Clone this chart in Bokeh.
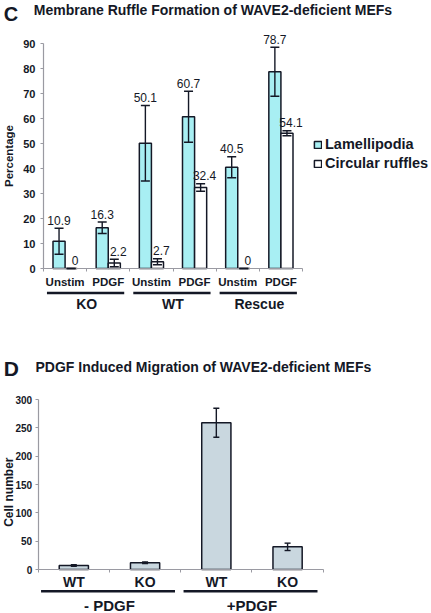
from math import pi
from bokeh.plotting import figure
from bokeh.models import (ColumnDataSource, Range1d, Whisker, TeeHead, LabelSet, Label,
                          Legend, LegendItem, FixedTicker, LinearAxis)
from bokeh.layouts import column
from bokeh.embed import file_html
from bokeh.resources import INLINE
from bokeh.core.properties import value

# ---------------- data: panel C ----------------
groups_c = ["KO", "WT", "Rescue"]
conditions_c = ["Unstim", "PDGF"]
lamellipodia = [10.9, 16.3, 50.1, 60.7, 40.5, 78.7]
lamellipodia_err = [5.2, 2.3, 15.1, 10.2, 4.2, 9.8]
circular = [0.0, 2.2, 2.7, 32.4, 0.0, 54.1]
circular_err = [0.0, 1.5, 1.2, 1.5, 0.0, 1.0]
y_ticks_c = [0, 10, 20, 30, 40, 50, 60, 70, 80, 90]

# ---------------- data: panel D ----------------
groups_d = ["- PDGF", "+PDGF"]
genotypes_d = ["WT", "KO"]
cell_number = [7, 12, 259, 40]
cell_number_err = [1.5, 1.5, 25.5, 6.5]
y_ticks_d = [0, 50, 100, 150, 200, 250, 300]

FONT = "Liberation Sans"
INK = "#141826"
AXIS = "#9a9aa2"
CYAN = "#a8eff3"
GREY = "#c9d7df"


def style_axes(xa, ya, sub_size, sub_standoff, tick_size, tick_standoff):
    for ax in (xa, ya):
        ax.axis_line_color = AXIS
        ax.axis_line_width = 1.2
        ax.major_label_text_font = FONT
        ax.major_label_text_font_style = "bold"
        ax.major_label_text_color = INK
    xa.major_tick_out = 0
    xa.major_tick_in = 0
    xa.minor_tick_line_color = AXIS
    xa.minor_tick_out = 3
    xa.minor_tick_in = 0
    xa.major_label_standoff = sub_standoff
    xa.major_label_text_font_size = sub_size
    ya.major_tick_line_color = AXIS
    ya.major_tick_out = 3
    ya.major_tick_in = 0
    ya.minor_tick_line_color = None
    ya.major_label_standoff = tick_standoff
    ya.major_label_text_font_size = tick_size


# ================= panel C =================
# frame = whole figure; 1 x-unit = one category (43.17 px), 1 y-unit = 2.5 px
WC, HC = 431, 325
cw_c = 259 / 6
n_c = len(groups_c) * len(conditions_c)
pC = figure(width=WC, height=HC, output_backend="svg", toolbar_location=None,
            x_range=Range1d(-0.5 - 43 / cw_c, -0.5 + (WC - 43) / cw_c),
            y_range=Range1d((268 - HC) / 2.5, 268 / 2.5),
            x_axis_location=None, y_axis_location=None, min_border=0)
pC.xgrid.visible = False
pC.ygrid.visible = False
pC.outline_line_color = None

idx_c = list(range(n_c))
OFF, BW = 0.14, 0.28
src_c = ColumnDataSource(dict(
    x_lam=[i - OFF for i in idx_c],
    x_circ=[i + OFF for i in idx_c],
    lam=lamellipodia,
    lam_lo=[v - e for v, e in zip(lamellipodia, lamellipodia_err)],
    lam_hi=[v + e for v, e in zip(lamellipodia, lamellipodia_err)],
    lam_txt=[f"{v:g}" for v in lamellipodia],
    circ=circular,
    circ_lo=[v - e for v, e in zip(circular, circular_err)],
    circ_hi=[v + e for v, e in zip(circular, circular_err)],
    circ_txt=[f"{v:g}" for v in circular],
))

r_lam = pC.vbar(x="x_lam", top="lam", width=BW, source=src_c,
                fill_color=CYAN, line_color=INK, line_width=1.5)
r_circ = pC.vbar(x="x_circ", top="circ", width=BW, source=src_c,
                 fill_color="white", line_color=INK, line_width=1.5)

for xcol, lo, hi in [("x_lam", "lam_lo", "lam_hi"), ("x_circ", "circ_lo", "circ_hi")]:
    pC.add_layout(Whisker(base=xcol, lower=lo, upper=hi, source=src_c,
                          level="overlay", line_color=INK, line_width=1.4,
                          upper_head=TeeHead(size=9, line_color=INK, line_width=1.4),
                          lower_head=TeeHead(size=9, line_color=INK, line_width=1.4)))

for xcol, ycol, tcol, xo in [("x_lam", "lam_hi", "lam_txt", 0), ("x_circ", "circ_hi", "circ_txt", 4)]:
    pC.add_layout(LabelSet(x=xcol, y=ycol, text=tcol, source=src_c,
                           level="overlay", x_offset=xo, y_offset=8,
                           text_align="center", text_baseline="middle",
                           text_font=value(FONT), text_font_size=value("12px"), text_color=INK))

# axes (drawn at x = first category edge and y = 0)
xa_c = LinearAxis(fixed_location=0, bounds=(-0.5, n_c - 0.5),
                  ticker=FixedTicker(ticks=idx_c, minor_ticks=[i - 0.5 for i in range(n_c + 1)]),
                  major_label_overrides={i: conditions_c[i % 2] for i in idx_c})
ya_c = LinearAxis(fixed_location=-0.5, bounds=(0, 90), ticker=FixedTicker(ticks=y_ticks_c),
                  axis_label="Percentage", axis_label_standoff=5,
                  axis_label_text_font=FONT, axis_label_text_font_style="bold",
                  axis_label_text_font_size="11.5px", axis_label_text_color=INK)
pC.add_layout(xa_c, "below")
pC.add_layout(ya_c, "left")
style_axes(xa_c, ya_c, "11.5px", 4, "11px", 5)

# group labels and underlines
gsrc_c = ColumnDataSource(dict(
    name=groups_c,
    xc=[2 * i + 0.5 for i in range(len(groups_c))],
    x0=[2 * i - 0.42 for i in range(len(groups_c))],
    x1=[2 * i + 1.37 for i in range(len(groups_c))],
    yl=[-9.8] * len(groups_c),
    yt=[-14.3] * len(groups_c),
))
pC.segment(x0="x0", x1="x1", y0="yl", y1="yl", source=gsrc_c, line_color=INK, line_width=2.4)
pC.add_layout(LabelSet(x="xc", y="yt", text="name", source=gsrc_c, level="overlay",
                       text_align="center", text_baseline="middle",
                       text_font=value(FONT), text_font_style=value("bold"),
                       text_font_size=value("14px"), text_color=INK))

legend = Legend(items=[LegendItem(label="Lamellipodia", renderers=[r_lam]),
                       LegendItem(label="Circular ruffles", renderers=[r_circ])],
                location=(313, 154), padding=0, margin=0, spacing=3,
                glyph_width=9, glyph_height=9, label_height=16, label_standoff=3,
                border_line_color=None, background_fill_alpha=0, level="overlay",
                label_text_font=FONT, label_text_font_style="bold", label_text_font_size="14.5px",
                label_text_color=INK)
pC.add_layout(legend)


def uc(px):
    return (px - 43) / cw_c - 0.5


def vc(py):
    return (268 - py) / 2.5


pC.add_layout(Label(x=uc(3.3), y=vc(13.7), text="C", level="overlay",
                    text_font=FONT, text_font_style="bold", text_font_size="20px",
                    text_baseline="middle", text_align="left", text_color=INK))
pC.add_layout(Label(x=uc(33.3), y=vc(9.0), level="overlay",
                    text="Membrane Ruffle Formation of WAVE2-deficient MEFs",
                    text_font=FONT, text_font_style="bold", text_font_size="14px",
                    text_baseline="middle", text_align="left", text_color=INK))

# ================= panel D =================
WD, HD = 431, 288
TOP_D = 325           # page y of panel D's top edge
cw_d = 285 / 4
ppu_d = 170 / 300
n_d = len(groups_d) * len(genotypes_d)
pD = figure(width=WD, height=HD, output_backend="svg", toolbar_location=None,
            x_range=Range1d(-0.5 - 37.7 / cw_d, -0.5 + (WD - 37.7) / cw_d),
            y_range=Range1d((569 - TOP_D - HD) / ppu_d, (569 - TOP_D) / ppu_d),
            x_axis_location=None, y_axis_location=None, min_border=0)
pD.xgrid.visible = False
pD.ygrid.visible = False
pD.outline_line_color = None

idx_d = list(range(n_d))
src_d = ColumnDataSource(dict(
    x=idx_d,
    n=cell_number,
    lo=[v - e for v, e in zip(cell_number, cell_number_err)],
    hi=[v + e for v, e in zip(cell_number, cell_number_err)],
))
pD.vbar(x="x", top="n", width=0.41, source=src_d, fill_color=GREY, line_color=INK, line_width=1.5)
pD.add_layout(Whisker(base="x", lower="lo", upper="hi", source=src_d, level="overlay",
                      line_color=INK, line_width=1.4,
                      upper_head=TeeHead(size=6, line_color=INK, line_width=1.4),
                      lower_head=TeeHead(size=6, line_color=INK, line_width=1.4)))

xa_d = LinearAxis(fixed_location=0, bounds=(-0.5, n_d - 0.5),
                  ticker=FixedTicker(ticks=idx_d, minor_ticks=[i - 0.5 for i in range(n_d + 1)]),
                  major_label_overrides={i: genotypes_d[i % 2] for i in idx_d})
ya_d = LinearAxis(fixed_location=-0.5, bounds=(0, 300), ticker=FixedTicker(ticks=y_ticks_d))
pD.add_layout(xa_d, "below")
pD.add_layout(ya_d, "left")
style_axes(xa_d, ya_d, "14px", 1, "10px", 3)

gsrc_d = ColumnDataSource(dict(
    name=groups_d,
    xc=[2 * i + 0.5 for i in range(len(groups_d))],
    x0=[2 * i - 0.46 for i in range(len(groups_d))],
    x1=[2 * i + 1.42 for i in range(len(groups_d))],
    yl=[-38.3] * len(groups_d),
    yt=[-63.5] * len(groups_d),
))
pD.segment(x0="x0", x1="x1", y0="yl", y1="yl", source=gsrc_d, line_color=INK, line_width=2.4)
pD.add_layout(LabelSet(x="xc", y="yt", text="name", source=gsrc_d, level="overlay",
                       text_align="center", text_baseline="middle",
                       text_font=value(FONT), text_font_style=value("bold"),
                       text_font_size=value("15px"), text_color=INK))


def ud(px):
    return (px - 37.7) / cw_d - 0.5


def vd(py):
    return (569 - py) / ppu_d


pD.add_layout(Label(x=ud(8), y=vd(491.7), text="Cell number", level="overlay",
                    angle=pi / 2, text_font=FONT, text_font_style="bold", text_font_size="12px",
                    text_baseline="middle", text_align="center", text_color=INK))
pD.add_layout(Label(x=ud(3.3), y=vd(367.5), text="D", level="overlay",
                    text_font=FONT, text_font_style="bold", text_font_size="21px",
                    text_baseline="middle", text_align="left", text_color=INK))
pD.add_layout(Label(x=ud(35), y=vd(366.7), level="overlay",
                    text="PDGF Induced Migration of WAVE2-deficient MEFs",
                    text_font=FONT, text_font_style="bold", text_font_size="14px",
                    text_baseline="middle", text_align="left", text_color=INK))

layout = column(pC, pD, spacing=0)
open("out.html", "w").write(file_html(layout, INLINE))
